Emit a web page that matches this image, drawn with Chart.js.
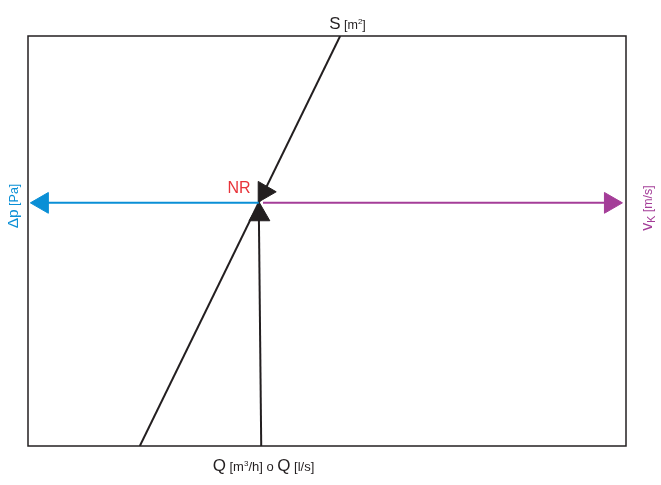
<!DOCTYPE html>
<html>
<head>
<meta charset="utf-8">
<script src="https://cdn.jsdelivr.net/npm/chart.js@4/dist/chart.umd.min.js"></script>
<style>
  html, body { margin: 0; padding: 0; background: #fff; }
  #wrap { width: 661px; height: 485px; position: relative; }
</style>
</head>
<body>
<div id="wrap"><canvas id="c"></canvas></div>
<script>
// Nomogram reading diagram (units 0..100 on both axes)
const surfaceLine  = [{x: 18.7, y: 0}, {x: 52.2, y: 100}];   // S [m²] line
const flowLine     = [{x: 39.0, y: 0}, {x: 38.6, y: 57.6}];  // Q reading (vertical)
const pressureLine = [{x: 38.6, y: 59.3}, {x: 2.0, y: 59.3}]; // Δp reading (to left)
const velocityLine = [{x: 39.3, y: 59.3}, {x: 97.0, y: 59.3}]; // vK reading (to right)
const arrowHeads   = [
  {x: 39.5, y: 62.0, rot: 90,  color: '#231f20'},
  {x: 38.7, y: 56.4, rot: 0,   color: '#231f20'},
  {x: 2.4,  y: 59.3, rot: 270, color: '#0a8fd6'},
  {x: 97.4, y: 59.3, rot: 90,  color: '#a43d98'}
];
const nrLabel = {x: 35.3, y: 60.2, text: 'NR'};

const BLACK = '#231f20', BLUE = '#0a8fd6', MAGENTA = '#a43d98', RED = '#e8333a';
const FONT = '"Liberation Sans", Arial, sans-serif';

function drawRich(ctx, parts, x, y, align) {
  let total = 0;
  parts.forEach(p => { ctx.font = p.size + 'px ' + FONT; p.w = ctx.measureText(p.t).width; total += p.w; });
  let cx = align === 'center' ? x - total / 2 : x;
  ctx.textBaseline = 'alphabetic';
  ctx.textAlign = 'left';
  parts.forEach(p => {
    ctx.font = p.size + 'px ' + FONT;
    ctx.fillText(p.t, cx, y + (p.dy || 0));
    cx += p.w;
  });
}

const decor = {
  id: 'decor',
  afterDraw(chart) {
    const ctx = chart.ctx, a = chart.chartArea;
    const xs = chart.scales.x, ys = chart.scales.y;
    ctx.save();
    ctx.strokeStyle = BLACK;
    ctx.lineWidth = 1.5;
    ctx.strokeRect(a.left, a.top, a.right - a.left, a.bottom - a.top);

    // top label
    ctx.fillStyle = BLACK;
    drawRich(ctx, [{t: 'S', size: 17}, {t: ' [m', size: 12.5}, {t: '2', size: 8, dy: -5}, {t: ']', size: 12.5}], 347.5, 29, 'center');
    // bottom label
    drawRich(ctx, [{t: 'Q', size: 17}, {t: ' [m', size: 13}, {t: '3', size: 8, dy: -5}, {t: '/h] o ', size: 13},
                   {t: 'Q', size: 17}, {t: ' [l/s]', size: 13}], 263.5, 471, 'center');
    // left label
    ctx.save();
    ctx.translate(17.5, 206);
    ctx.rotate(-Math.PI / 2);
    ctx.fillStyle = BLUE;
    drawRich(ctx, [{t: 'Δp', size: 15.5}, {t: ' [Pa]', size: 12.5}], 0, 0, 'center');
    ctx.restore();
    // right label
    ctx.save();
    ctx.translate(652, 208);
    ctx.rotate(-Math.PI / 2);
    ctx.fillStyle = MAGENTA;
    drawRich(ctx, [{t: 'v', size: 16}, {t: 'K', size: 10.5, dy: 3}, {t: ' [m/s]', size: 12.5}], 0, 0, 'center');
    ctx.restore();
    // NR label
    ctx.fillStyle = RED;
    ctx.font = '16px ' + FONT;
    ctx.textAlign = 'center';
    ctx.textBaseline = 'alphabetic';
    ctx.fillText(nrLabel.text, xs.getPixelForValue(nrLabel.x), ys.getPixelForValue(nrLabel.y) - 6);
    ctx.restore();
  }
};

const lineDs = (data, color, w) => ({
  data, showLine: true, borderColor: color, borderWidth: w, pointRadius: 0, fill: false
});

new Chart(document.getElementById('c'), {
  type: 'scatter',
  data: {
    datasets: [
      lineDs(pressureLine, BLUE, 2),
      lineDs(velocityLine, MAGENTA, 2),
      lineDs(surfaceLine, BLACK, 2),
      lineDs(flowLine, BLACK, 2),
      {
        data: arrowHeads.map(a => ({x: a.x, y: a.y})),
        showLine: false,
        pointStyle: 'triangle',
        pointRadius: 12,
        pointRotation: arrowHeads.map(a => a.rot),
        pointBackgroundColor: arrowHeads.map(a => a.color),
        pointBorderColor: arrowHeads.map(a => a.color),
        pointBorderWidth: 1
      }
    ]
  },
  options: {
    responsive: true,
    maintainAspectRatio: false,
    animation: false,
    layout: { padding: { left: 28, top: 36, right: 35, bottom: 39 } },
    plugins: { legend: { display: false }, tooltip: { enabled: false } },
    events: [],
    scales: {
      x: { type: 'linear', min: 0, max: 100, display: false },
      y: { type: 'linear', min: 0, max: 100, display: false }
    }
  },
  plugins: [decor]
});
</script>
</body>
</html>
